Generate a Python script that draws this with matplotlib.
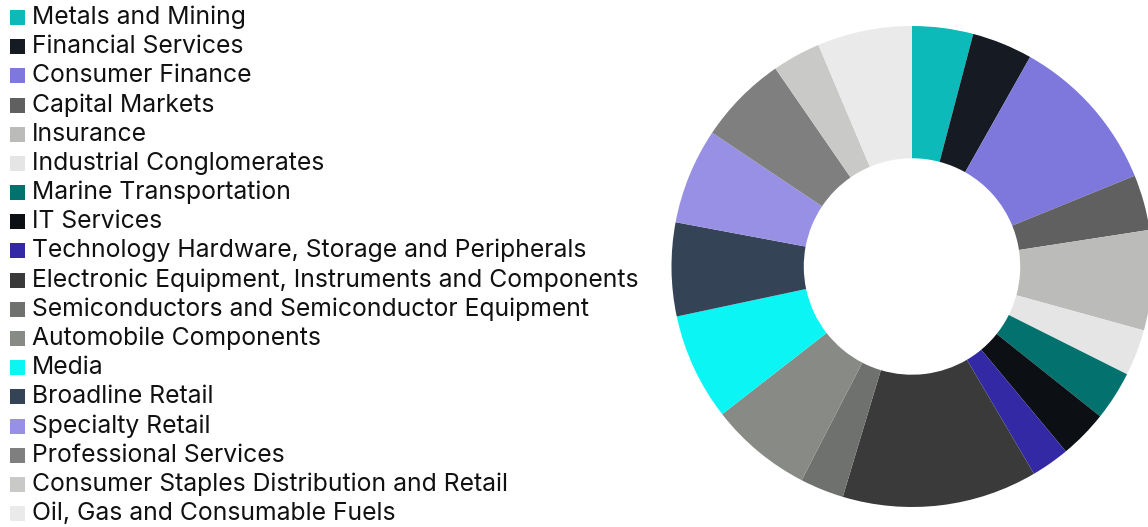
import matplotlib.pyplot as plt
from matplotlib.patches import Rectangle

# sector weights (% of portfolio), clockwise from 12 o'clock
sectors = [
    "Metals and Mining",
    "Financial Services",
    "Consumer Finance",
    "Capital Markets",
    "Insurance",
    "Industrial Conglomerates",
    "Marine Transportation",
    "IT Services",
    "Technology Hardware, Storage and Peripherals",
    "Electronic Equipment, Instruments and Components",
    "Semiconductors and Semiconductor Equipment",
    "Automobile Components",
    "Media",
    "Broadline Retail",
    "Specialty Retail",
    "Professional Services",
    "Consumer Staples Distribution and Retail",
    "Oil, Gas and Consumable Fuels",
]
weights = [4.10, 4.07, 10.67, 3.72, 6.72, 3.11, 3.31, 3.25, 2.58,
           13.11, 2.94, 6.89, 7.19, 6.28, 6.44, 6.00, 3.25, 6.36]
colors = ["#0bbab9", "#161a22", "#7f78dc", "#606060", "#bbbcba", "#e5e5e5",
          "#03716e", "#0c0f14", "#3329a5", "#3a3a3a", "#6f716e", "#878a85",
          "#0cf5f5", "#354357", "#9790e4", "#7f7f7f", "#c9cac8", "#eaeaea"]

W, H = 1148, 527
fig = plt.figure(figsize=(W / 100, H / 100), dpi=100)

# donut
cx, cy, R = 912, 266.5, 240.5
ax = fig.add_axes([(cx - R) / W, (H - cy - R) / H, 2 * R / W, 2 * R / H])
ax.pie(weights, colors=colors, startangle=90, counterclock=False,
       radius=1, wedgeprops=dict(width=0.55, linewidth=0))
ax.set_xlim(-1, 1)
ax.set_ylim(-1, 1)
ax.set_aspect("equal")
ax.axis("off")

# legend drawn by hand, one row per sector
y0, step, sq = 17.5, 29.18, 15
for i, (name, c) in enumerate(zip(sectors, colors)):
    yc = y0 + i * step
    fig.patches.append(Rectangle((10 / W, (H - yc - sq / 2) / H), sq / W, sq / H,
                                 transform=fig.transFigure, facecolor=c,
                                 edgecolor="none"))
    fig.text(32 / W, (H - yc - 6.5) / H, name, fontsize=17.8,
             family="Inter", color="#111111", va="baseline", ha="left")

fig.savefig("out.png", dpi=100)
